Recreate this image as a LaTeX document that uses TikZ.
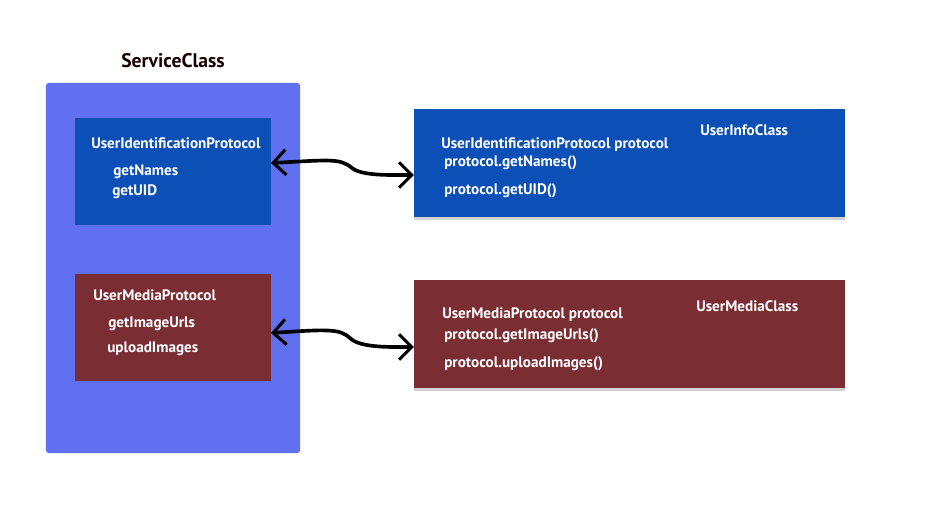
\documentclass[tikz,border=0pt]{standalone}
\usepackage{fontspec}
\setmainfont{PT Sans}
\usetikzlibrary{arrows.meta,shadows}
\definecolor{svcblue}{HTML}{6170F1}
\definecolor{idblue}{HTML}{0B4FB7}
\definecolor{mediared}{HTML}{7A2E33}
\begin{document}
\begin{tikzpicture}[x=0.025cm,y=-0.025cm,
  box/.style={inner sep=0,outer sep=0,minimum width=4.9cm,minimum height=2.675cm},
  wide/.style={inner sep=0,outer sep=0,minimum width=10.775cm,minimum height=2.7cm,
    drop shadow={shadow xshift=0pt,shadow yshift=-2pt,fill=black!18,opacity=1}},
  lbl/.style={anchor=west,text=white,font=\bfseries\fontsize{10.8}{13}\selectfont,inner sep=0,yshift=-1.5pt},
  link/.style={line width=2.6pt,{Straight Barb[length=9pt,width=18pt,line width=2.2pt]}-{Straight Barb[length=9pt,width=18pt,line width=2.2pt]}}]
\useasboundingbox (0,0) rectangle (929,507);
\node[font=\bfseries\fontsize{14}{17}\selectfont,text=black!90!red] (title) at (173,61) {ServiceClass};
\node[fill=svcblue,rounded corners=2pt,inner sep=0,minimum width=6.35cm,minimum height=9.25cm] (svc) at (173,268) {};
\node[box,fill=idblue] (idp) at (173,171.5) {};
\node[box,fill=mediared] (mediap) at (173,327.5) {};
\node[wide,fill=idblue] (info) at (629.5,163) {};
\node[wide,fill=mediared] (media) at (629.5,334) {};
% protocol boxes
\node[lbl] (idname) at (91,141) {UserIdentificationProtocol};
\node[lbl] (names) at (113,170) {getNames};
\node[lbl] (uid) at (112,190) {getUID};
\node[lbl] (medianame) at (93,293) {UserMediaProtocol};
\node[lbl] (urls) at (108,322) {getImageUrls};
\node[lbl] (upload) at (107,347) {uploadImages};
% classes
\node[lbl] (infoname) at (700,128) {UserInfoClass};
\node[lbl] (infoprot) at (441,143) {UserIdentificationProtocol protocol};
\node[lbl] (callnames) at (444,161) {protocol.getNames()};
\node[lbl] (calluid) at (444,189) {protocol.getUID()};
\node[lbl] (medianame2) at (696,304) {UserMediaClass};
\node[lbl] (mediaprot) at (442,313) {UserMediaProtocol protocol};
\node[lbl] (callurls) at (444,334) {protocol.getImageUrls()};
\node[lbl] (callupload) at (444,362) {protocol.uploadImages()};
% links
\draw[link] (idp.east|-0,163) .. controls (330,160) and (340,158) .. (352,168)
  .. controls (362,176) and (390,175) .. (info.west|-0,175);
\draw[link] (mediap.east|-0,333) .. controls (330,329) and (340,329) .. (350,338)
  .. controls (360,348) and (390,347) .. (media.west|-0,347);
\end{tikzpicture}
\end{document}
